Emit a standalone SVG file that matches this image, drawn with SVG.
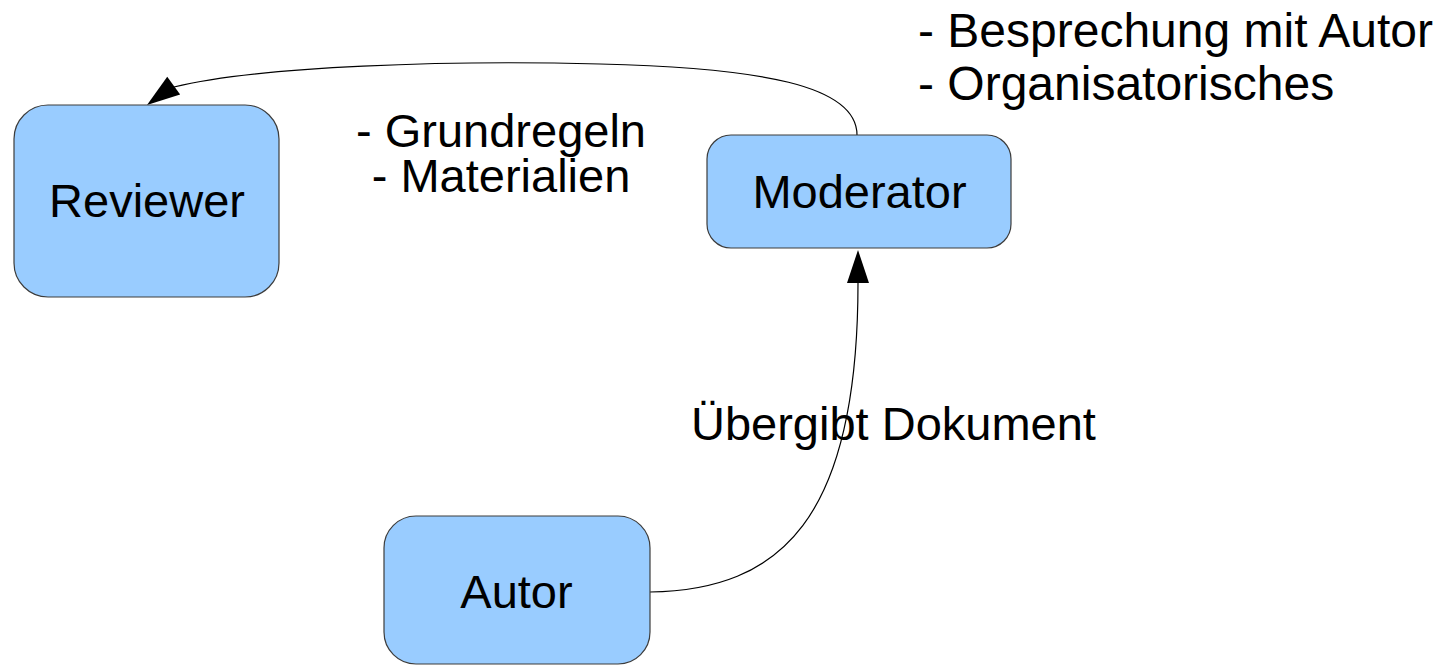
<svg xmlns="http://www.w3.org/2000/svg" width="1441" height="665" viewBox="0 0 1441 665">
  <style>
    .box { fill: #99ccff; stroke: #3c3c3c; stroke-width: 1.2; }
    .lbl { font-family: "Liberation Sans", Arial, sans-serif; font-size: 47px; fill: #000; }
    .big { font-size: 48px; }
    .mid { text-anchor: middle; }
    .edge { fill: none; stroke: #000; stroke-width: 1.2; }
    .head { fill: #000; stroke: none; }
  </style>
  <defs>
    <!-- arrowhead with its tip at the origin, pointing along +x -->
    <path id="arrowhead" d="M0,0 L-33,-11 L-33,11 Z"/>
  </defs>
  <rect width="1441" height="665" fill="#ffffff"/>

  <g id="connectors">
    <!-- Moderator -> Reviewer -->
    <path class="edge" d="M857,135 C857,85 760,68 600,64 C450,60 260,66 174,87"/>
    <use href="#arrowhead" class="head" transform="translate(147,105) rotate(144)"/>
    <!-- Autor -> Moderator -->
    <path class="edge" d="M650,592 C780,590 858,520 858,283"/>
    <use href="#arrowhead" class="head" transform="translate(858,250) rotate(-90)"/>
  </g>

  <g id="reviewer">
    <rect class="box" x="14" y="105" width="265" height="192" rx="34" ry="34"/>
    <text class="lbl mid" x="147" y="217">Reviewer</text>
  </g>

  <g id="moderator">
    <rect class="box" x="707" y="135" width="304" height="113" rx="24" ry="24"/>
    <text class="lbl mid" x="859.5" y="208">Moderator</text>
  </g>

  <g id="autor">
    <rect class="box" x="384" y="516" width="266" height="148" rx="32" ry="32"/>
    <text class="lbl mid" x="516.5" y="608">Autor</text>
  </g>

  <g id="labels">
    <text class="lbl mid" x="501" y="147">- Grundregeln</text>
    <text class="lbl mid" x="501" y="192">- Materialien</text>
    <text class="lbl big" x="918" y="47">- Besprechung mit Autor</text>
    <text class="lbl big" x="918" y="100">- Organisatorisches</text>
    <text class="lbl" x="691" y="440">Übergibt Dokument</text>
  </g>
</svg>
